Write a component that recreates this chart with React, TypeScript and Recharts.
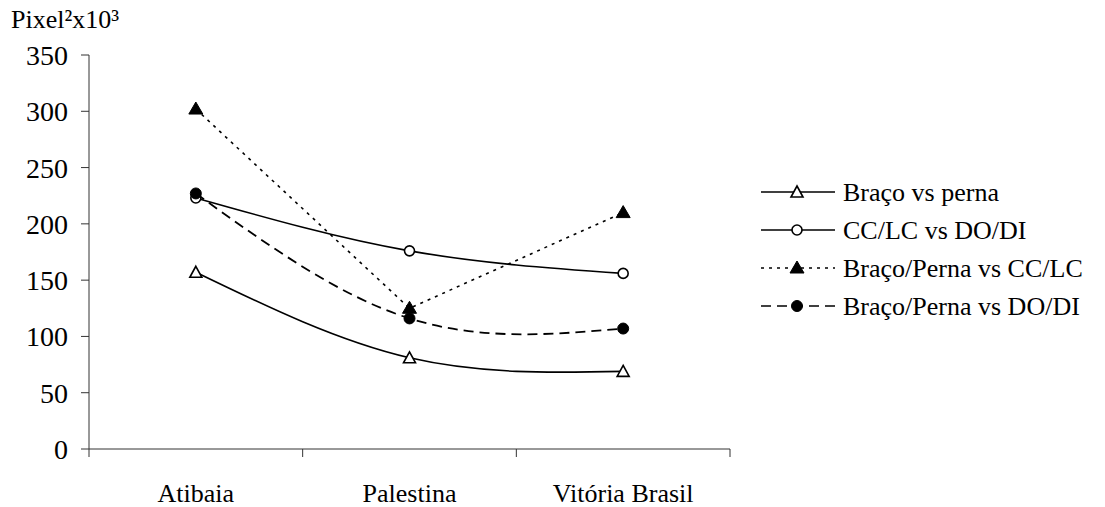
import { LineChart, Line, XAxis, YAxis } from "recharts";

const categories = ["Atibaia", "Palestina", "Vitória Brasil"];
const bracoVsPerna = [157, 81, 69];
const ccLcVsDoDi = [223, 176, 156];
const bracoPernaVsCcLc = [302, 125, 210];
const bracoPernaVsDoDi = [227, 116, 107];
const yTicks = [0, 50, 100, 150, 200, 250, 300, 350];
const xTicks = [0, 0.5, 1, 1.5, 2, 2.5, 3];

const FONT = "Liberation Serif";
const FS = 26;
const AXIS = "#333";

const data = categories.map((name, i) => ({
  x: i + 0.5,
  name,
  bp: bracoVsPerna[i],
  cc: ccLcVsDoDi[i],
  bpcc: bracoPernaVsCcLc[i],
  bpdo: bracoPernaVsDoDi[i],
}));

// markers
function OpenTriangle(props: any) {
  const { cx, cy } = props;
  if (cx == null || cy == null) return null;
  return (
    <path
      d={`M${cx},${cy - 6} L${cx + 6},${cy + 5} L${cx - 6},${cy + 5} Z`}
      fill="#fff"
      stroke="#000"
      strokeWidth={1.6}
    />
  );
}

function FilledTriangle(props: any) {
  const { cx, cy } = props;
  if (cx == null || cy == null) return null;
  return (
    <path
      d={`M${cx},${cy - 7} L${cx + 7},${cy + 5} L${cx - 7},${cy + 5} Z`}
      fill="#000"
      stroke="#000"
      strokeWidth={1}
    />
  );
}

function OpenCircle(props: any) {
  const { cx, cy } = props;
  if (cx == null || cy == null) return null;
  return <circle cx={cx} cy={cy} r={5} fill="#fff" stroke="#000" strokeWidth={1.6} />;
}

function FilledCircle(props: any) {
  const { cx, cy } = props;
  if (cx == null || cy == null) return null;
  return <circle cx={cx} cy={cy} r={5.5} fill="#000" stroke="#000" strokeWidth={1} />;
}

function XTick(props: any) {
  const { x, y, payload } = props;
  const v = payload.value as number;
  if (Number.isInteger(v)) {
    return <line x1={x} y1={y} x2={x} y2={y + 8} stroke={AXIS} strokeWidth={1} />;
  }
  return (
    <text x={x} y={y + 53} textAnchor="middle" style={{ fontFamily: FONT }} fontSize={FS} fill="#000">
      {categories[Math.floor(v)]}
    </text>
  );
}

const legendItems = [
  { label: "Braço vs perna", dash: undefined, Marker: OpenTriangle },
  { label: "CC/LC vs DO/DI", dash: undefined, Marker: OpenCircle },
  { label: "Braço/Perna vs CC/LC", dash: "3 5", Marker: FilledTriangle },
  { label: "Braço/Perna vs DO/DI", dash: "10 6", Marker: FilledCircle },
];

function LegendBox() {
  return (
    <svg width={345} height={160}>
      {legendItems.map((it, i) => {
        const y = 20 + i * 38;
        const M = it.Marker;
        return (
          <g key={it.label}>
            <line x1={1} y1={y} x2={75} y2={y} stroke="#000" strokeWidth={1.5} strokeDasharray={it.dash} />
            <M cx={37} cy={y} />
            <text x={83} y={y + 9} style={{ fontFamily: FONT }} fontSize={FS} fill="#000">
              {it.label}
            </text>
          </g>
        );
      })}
    </svg>
  );
}

export default function App() {
  return (
    <div
      style={{
        position: "absolute",
        left: 0,
        top: 0,
        width: 1105,
        height: 507,
        background: "#fff",
        fontFamily: FONT,
      }}
    >
      <div
        style={{
          position: "absolute",
          left: 11,
          top: 5,
          fontSize: FS,
          lineHeight: "30px",
          color: "#000",
        }}
      >
        Pixel²x10³
      </div>
      <LineChart
        width={1105}
        height={507}
        data={data}
        margin={{ top: 55, right: 375, bottom: 0, left: 0 }}
        style={{ fontFamily: FONT }}
      >
        <XAxis
          dataKey="x"
          type="number"
          domain={[0, 3]}
          ticks={xTicks}
          interval={0}
          height={58}
          tickLine={false}
          tickSize={0}
          tickMargin={0}
          tick={<XTick />}
          axisLine={{ stroke: AXIS, strokeWidth: 1 }}
        />
        <YAxis
          type="number"
          domain={[0, 350]}
          ticks={yTicks}
          interval={0}
          width={89}
          tickSize={8}
          tickMargin={13}
          axisLine={{ stroke: AXIS, strokeWidth: 1 }}
          tickLine={{ stroke: AXIS, strokeWidth: 1 }}
          tick={{ fontFamily: FONT, fontSize: 28, fill: "#000" }}
        />
        <Line
          type="natural"
          dataKey="bp"
          stroke="#000"
          strokeWidth={1.6}
          dot={<OpenTriangle />}
          activeDot={false}
          isAnimationActive={false}
        />
        <Line
          type="natural"
          dataKey="cc"
          stroke="#000"
          strokeWidth={1.6}
          dot={<OpenCircle />}
          activeDot={false}
          isAnimationActive={false}
        />
        <Line
          type="linear"
          dataKey="bpcc"
          stroke="#000"
          strokeWidth={1.6}
          strokeDasharray="3 5"
          dot={<FilledTriangle />}
          activeDot={false}
          isAnimationActive={false}
        />
        <Line
          type="natural"
          dataKey="bpdo"
          stroke="#000"
          strokeWidth={1.8}
          strokeDasharray="10 6"
          dot={<FilledCircle />}
          activeDot={false}
          isAnimationActive={false}
        />
      </LineChart>
      <div style={{ position: "absolute", left: 760, top: 172 }}>
        <LegendBox />
      </div>
    </div>
  );
}
